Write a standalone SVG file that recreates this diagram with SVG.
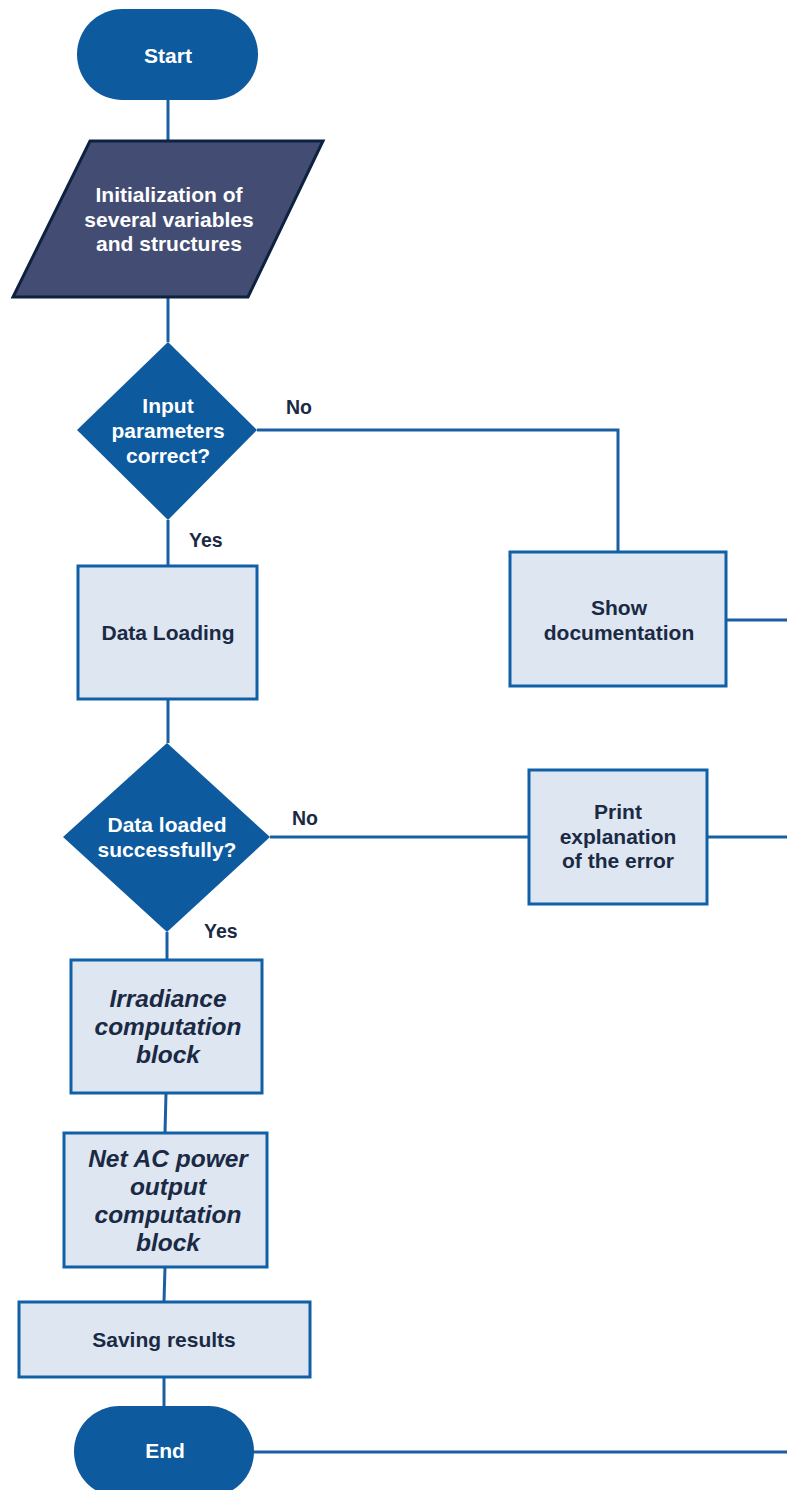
<svg xmlns="http://www.w3.org/2000/svg" width="787" height="1490" viewBox="0 0 787 1490">
<style>
.term{fill:#0d5a9e;}
.dec{fill:#0d5a9e;}
.io{fill:#434d73;stroke:#0d2240;stroke-width:3;}
.box{fill:#dee6f1;stroke:#1060a8;stroke-width:3;}
.wt{font-family:"Liberation Sans",Arial,sans-serif;font-weight:bold;font-size:21px;fill:#ffffff;text-anchor:middle;}
.dt{font-family:"Liberation Sans",Arial,sans-serif;font-weight:bold;font-size:21px;fill:#1b2a44;text-anchor:middle;}
.it{font-family:"Liberation Sans",Arial,sans-serif;font-weight:bold;font-style:italic;font-size:24.5px;fill:#1b2a44;text-anchor:middle;}
.lb{font-family:"Liberation Sans",Arial,sans-serif;font-weight:bold;font-size:19.5px;fill:#1b2a44;}
.cn{fill:none;stroke:#1a5fa3;stroke-width:3;}
</style>
<rect width="787" height="1490" fill="#ffffff"/>
<g id="connectors">
<path class="cn" d="M168,100 L168,141"/>
<path class="cn" d="M168,297 L168,342"/>
<path class="cn" d="M257,430 L618,430 L618,552"/>
<path class="cn" d="M726,620 L787,620"/>
<path class="cn" d="M168,520 L168,566"/>
<path class="cn" d="M168,699 L168,743"/>
<path class="cn" d="M270,837 L529,837"/>
<path class="cn" d="M707,837 L787,837"/>
<path class="cn" d="M167,932 L167,960"/>
<path class="cn" d="M166,1093 L165,1133"/>
<path class="cn" d="M165,1267 L164,1302"/>
<path class="cn" d="M164,1377 L164,1406"/>
<path class="cn" d="M254,1452 L787,1452"/>
</g>
<g id="start">
<rect class="term" x="77" y="9" width="181" height="91" rx="45.5"/>
<text class="wt" x="168" y="63">Start</text>
</g>
<g id="init">
<polygon class="io" points="90,141 323,141 248,297 13,297"/>
<text class="wt" x="169" y="202">Initialization of</text>
<text class="wt" x="169" y="226.5">several variables</text>
<text class="wt" x="169" y="251">and structures</text>
</g>
<g id="check-input">
<polygon class="dec" points="168,342 257,430 168,520 77,430"/>
<text class="wt" x="168" y="413">Input</text>
<text class="wt" x="168" y="438">parameters</text>
<text class="wt" x="168" y="463">correct?</text>
</g>
<text class="lb" x="286" y="414">No</text>
<text class="lb" x="189" y="547">Yes</text>
<g id="data-loading">
<rect class="box" x="78" y="566" width="179" height="133"/>
<text class="dt" x="168" y="640">Data Loading</text>
</g>
<g id="show-doc">
<rect class="box" x="510" y="552" width="216" height="134"/>
<text class="dt" x="619" y="615">Show</text>
<text class="dt" x="619" y="639.5">documentation</text>
</g>
<g id="check-data">
<polygon class="dec" points="167,743 270,837 167,932 63,837"/>
<text class="wt" x="167" y="832">Data loaded</text>
<text class="wt" x="167" y="857">successfully?</text>
</g>
<text class="lb" x="292" y="825">No</text>
<text class="lb" x="204" y="938">Yes</text>
<g id="print-error">
<rect class="box" x="529" y="770" width="178" height="134"/>
<text class="dt" x="618" y="819">Print</text>
<text class="dt" x="618" y="843.5">explanation</text>
<text class="dt" x="618" y="868">of the error</text>
</g>
<g id="irradiance">
<rect class="box" x="71" y="960" width="191" height="133"/>
<text class="it" x="168" y="1007">Irradiance</text>
<text class="it" x="168" y="1035">computation</text>
<text class="it" x="168" y="1063">block</text>
</g>
<g id="net-ac">
<rect class="box" x="64" y="1133" width="203" height="134"/>
<text class="it" x="168" y="1167">Net AC power</text>
<text class="it" x="168" y="1195">output</text>
<text class="it" x="168" y="1223">computation</text>
<text class="it" x="168" y="1251">block</text>
</g>
<g id="saving">
<rect class="box" x="19" y="1302" width="291" height="75"/>
<text class="dt" x="164" y="1347">Saving results</text>
</g>
<g id="end">
<rect class="term" x="74" y="1406" width="180" height="91" rx="45.5"/>
<text class="wt" x="165" y="1458">End</text>
</g>
</svg>
